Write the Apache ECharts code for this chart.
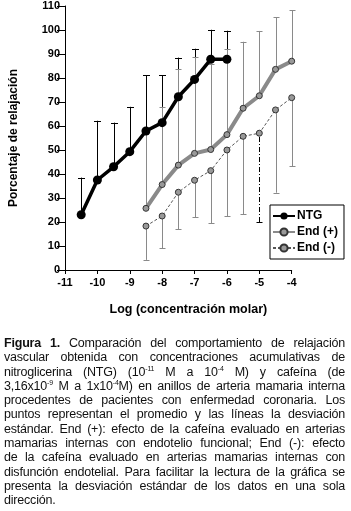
<!DOCTYPE html>
<html>
<head>
<meta charset="utf-8">
<script src="https://cdn.jsdelivr.net/npm/echarts@6/dist/echarts.min.js"></script>
<style>
  body { margin: 0; background: #fff; }
  #chart { position: absolute; left: 0; top: 0; width: 351px; height: 511px; }
  #caption {
    position: absolute; left: 4px; top: 336px; width: 341px;
    font-family: 'Liberation Sans', Arial, sans-serif; font-size: 12.5px; line-height: 14.3px;
    letter-spacing: -0.2px; color: #111;
  }
  #caption div { text-align: justify; text-align-last: justify; white-space: nowrap; }
  #caption div.last { text-align-last: left; }
  #caption sup { font-size: 7px; line-height: 0; }
</style>
</head>
<body>
<div id="chart"></div>
<div id="caption">
  <div><b>Figura 1.</b> Comparación del comportamiento de relajación</div>
  <div>vascular obtenida con concentraciones acumulativas de</div>
  <div>nitroglicerina (NTG) (10<sup>-11</sup> M a 10<sup>-4</sup> M) y cafeína (de</div>
  <div>3,16x10<sup>-9</sup> M a 1x10<sup>-4</sup>M) en anillos de arteria mamaria interna</div>
  <div>procedentes de pacientes con enfermedad coronaria. Los</div>
  <div>puntos representan el promedio y las líneas la desviación</div>
  <div>estándar. End (+): efecto de la cafeína evaluado en arterias</div>
  <div>mamarias internas con endotelio funcional; End (-): efecto</div>
  <div>de la cafeína evaluado en arterias mamarias internas con</div>
  <div>disfunción endotelial. Para facilitar la lectura de la gráfica se</div>
  <div>presenta la desviación estándar de los datos en una sola</div>
  <div class="last">dirección.</div>
</div>
<script>
// log concentration (x) for each series
const ntgX = [-10.5, -10, -9.5, -9, -8.5, -8, -7.5, -7, -6.5, -6];
const ntgMean = [23, 37.5, 43, 49.3, 57.9, 61.4, 72.2, 79.4, 87.8, 87.8];
const ntgUpper = [38.5, 62.2, 61.4, 68, 81.1, 81.1, 88.5, 92.2, 100.1, 99.7];

const cafX = [-8.5, -8, -7.5, -7, -6.5, -6, -5.5, -5, -4.5, -4];
const endPlusMean = [25.7, 35.6, 43.7, 48.6, 50.2, 56.4, 67.4, 72.6, 83.6, 87];
const endPlusUpper = [57, 68, 83.6, 88.6, 86, 92, 95.1, 99.6, 105.4, 108.2];
const endMinusMean = [18.3, 22.5, 32.4, 37.4, 41.4, 50, 55.7, 57, 66.7, 71.8];
const endMinusLower = [4.2, 9, 17, 22, 19.4, 22.3, 23.3, 20, 32.2, 43.3];
const brokenBarAt = -5; // this SD bar is drawn dash-dot in the original

const FONT = 'Liberation Sans';
const GRAY = '#8a8a8a';

function zip(xs, a, b) {
  return xs.map((x, i) => b ? [x, a[i], b[i]] : [x, a[i]]);
}

function errorBars(color, capTop, capW) {
  return function (params, api) {
    var x = api.value(0);
    var p1 = api.coord([x, api.value(1)]);
    var p2 = api.coord([x, api.value(2)]);
    var cx = Math.round(p1[0]) + 0.5;
    var capY = Math.round(capTop ? p2[1] : p1[1]) + 0.5;
    var stroke = color, dash = null;
    if (x === brokenBarAt && !capTop) { stroke = '#000'; dash = [5, 2, 1, 2]; }
    return {
      type: 'group',
      children: [
        { type: 'line', shape: { x1: cx, y1: p1[1], x2: cx, y2: p2[1] },
          style: { stroke: stroke, lineWidth: 1, lineDash: dash } },
        { type: 'line', shape: { x1: cx - capW / 2, y1: capY, x2: cx + capW / 2, y2: capY },
          style: { stroke: stroke, lineWidth: 1 } }
      ]
    };
  };
}

var myChart = echarts.init(document.getElementById('chart'));
myChart.setOption({
  animation: false,
  textStyle: { fontFamily: FONT },
  grid: { left: 61.7, right: 59.3, top: 6, bottom: 241 },
  legend: {
    data: ['NTG', 'End (+)', 'End (-)'],
    orient: 'vertical',
    left: 270, top: 205,
    width: 72,
    padding: [5, 6, 5, 2],
    itemGap: 4,
    itemWidth: 22, itemHeight: 9,
    borderColor: '#000', borderWidth: 1, borderRadius: 0,
    textStyle: { fontFamily: FONT, fontWeight: 'bold', fontSize: 12, color: '#000', padding: [0, 0, 0, -3] }
  },
  xAxis: {
    type: 'value', min: -11, max: -4, interval: 1,
    name: 'Log (concentración molar)',
    nameLocation: 'middle', nameGap: 33,
    nameTextStyle: { fontFamily: FONT, fontWeight: 'bold', fontSize: 12.5, color: '#000', padding: [0, 0, 0, 20] },
    axisLine: { lineStyle: { color: '#000', width: 1 } },
    axisTick: { length: 4, lineStyle: { color: '#000' } },
    axisLabel: { fontFamily: FONT, fontWeight: 'bold', fontSize: 11, color: '#000', margin: 7 },
    splitLine: { show: false }
  },
  yAxis: {
    type: 'value', min: 0, max: 110, interval: 10,
    name: 'Porcentaje de relajación',
    nameLocation: 'middle', nameGap: 45,
    nameTextStyle: { fontFamily: FONT, fontWeight: 'bold', fontSize: 12, color: '#000' },
    axisLine: { show: true, lineStyle: { color: '#000', width: 1 } },
    axisTick: { show: true, length: 8, lineStyle: { color: '#000' } },
    axisLabel: { fontFamily: FONT, fontWeight: 'bold', fontSize: 11, color: '#000', margin: 5 },
    splitLine: { show: false }
  },
  series: [
    { name: 'NTG-sd', type: 'custom', renderItem: errorBars('#000', true, 7),
      data: zip(ntgX, ntgMean, ntgUpper), z: 1, silent: true },
    { name: 'End (+)-sd', type: 'custom', renderItem: errorBars(GRAY, true, 6),
      data: zip(cafX, endPlusMean, endPlusUpper), z: 2, silent: true },
    { name: 'End (-)-sd', type: 'custom', renderItem: errorBars(GRAY, false, 6),
      data: zip(cafX, endMinusLower, endMinusMean), z: 2, silent: true },
    { name: 'End (-)', type: 'line', data: zip(cafX, endMinusMean), z: 3,
      lineStyle: { color: '#555', width: 1, type: [3, 2] },
      symbol: 'circle', symbolSize: 6,
      itemStyle: { color: '#999', borderColor: '#333', borderWidth: 1 } },
    { name: 'End (+)', type: 'line', data: zip(cafX, endPlusMean), z: 4,
      lineStyle: { color: GRAY, width: 4 },
      symbol: 'circle', symbolSize: 6,
      itemStyle: { color: '#999', borderColor: '#333', borderWidth: 1 } },
    { name: 'NTG', type: 'line', data: zip(ntgX, ntgMean), z: 5,
      lineStyle: { color: '#000', width: 3.5 },
      symbol: 'circle', symbolSize: 9,
      itemStyle: { color: '#000', borderColor: '#000', borderWidth: 0 } }
  ]
});
</script>
</body>
</html>
